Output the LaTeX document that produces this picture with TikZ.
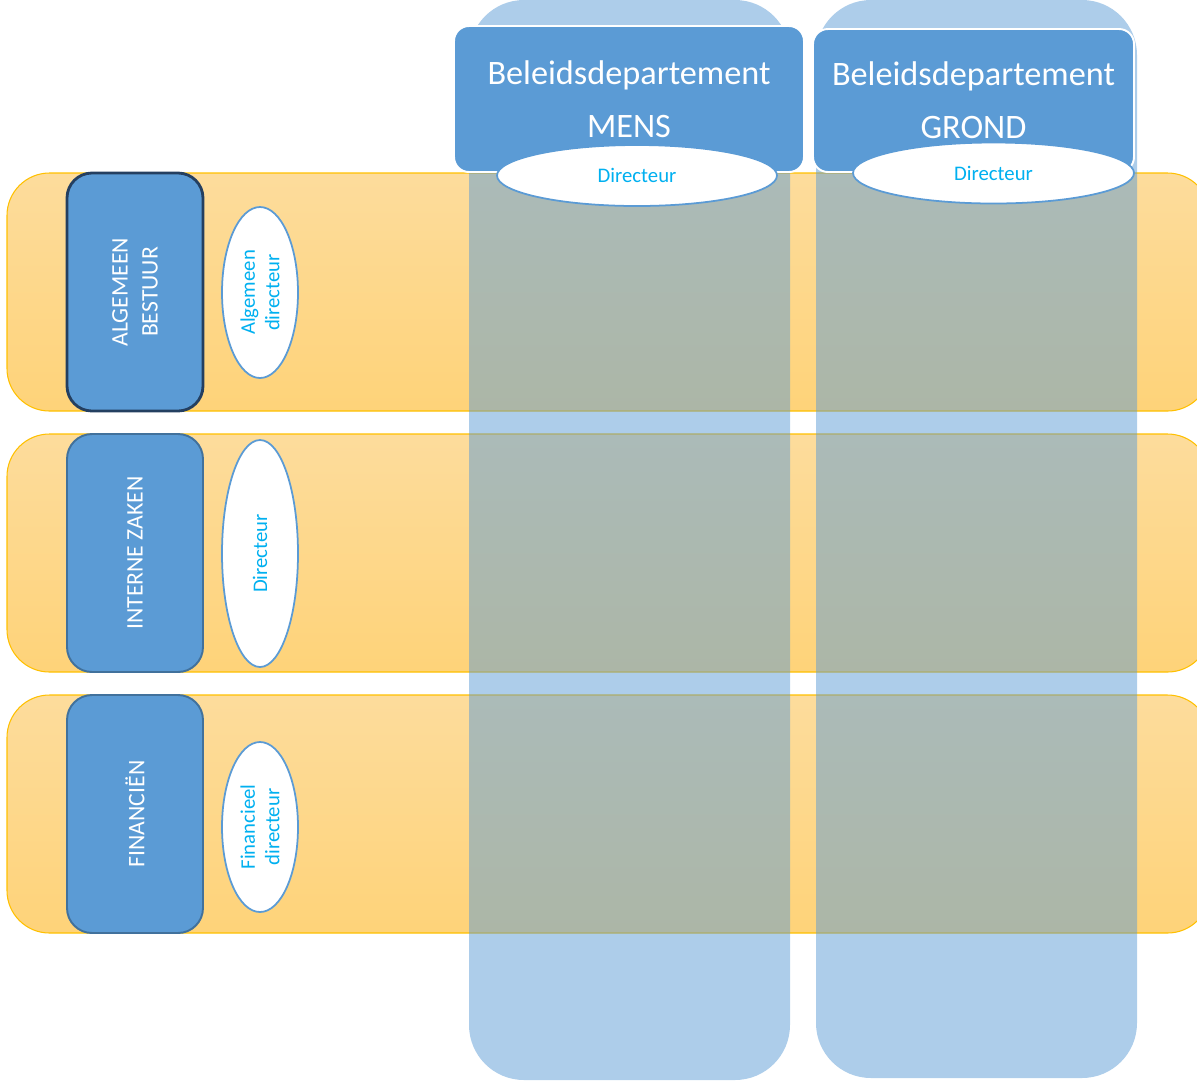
\documentclass[tikz,border=0pt]{standalone}
\usepackage{fontspec}
\setmainfont{Carlito}
\usetikzlibrary{shapes.geometric, positioning}
\definecolor{blauw}{HTML}{5B9BD5}
\definecolor{randblauw}{HTML}{41719C}
\definecolor{donkerblauw}{HTML}{243F60}
\definecolor{oranjerand}{HTML}{FFC000}
\definecolor{oranjeboven}{HTML}{FDDC9C}
\definecolor{oranjeonder}{HTML}{FED379}
\definecolor{tekstblauw}{HTML}{00B0F0}

\tikzset{
  band/.style={draw=oranjerand, line width=0.6pt, rounded corners=0.85cm,
    top color=oranjeboven, bottom color=oranjeonder, inner sep=0pt},
  kolom/.style={fill=blauw, fill opacity=0.5, rounded corners=1.1cm, inner sep=0pt,
    minimum width={321*0.02cm}},
  kop/.style={fill=blauw, draw=white, line width=1.1pt, rounded corners=0.3cm,
    text=white, align=center, inner sep=0pt, font={\fontsize{19.5}{30}\selectfont}},
  afdeling/.style={fill=blauw, draw=randblauw, line width=1.1pt, rounded corners=0.5cm,
    rotate=90, text=white, align=center, inner sep=0pt,
    minimum width={238*0.02cm}, minimum height={136*0.02cm},
    font={\fontsize{13.5}{17}\selectfont}},
  leider/.style={ellipse, fill=white, draw=blauw, line width=1pt, inner sep=0pt,
    text=tekstblauw, align=center, font={\fontsize{11.8}{14}\selectfont}},
}

\begin{document}
\begin{tikzpicture}[x=0.02cm, y=-0.02cm]
    \useasboundingbox (0,0) rectangle (1197,1080);
    \clip (0,0) rectangle (1197,1080);
    % Horizontale banden
    \foreach \naam/\y in {bestuur/292, intern/553, financien/814} {
        \node[band, minimum width={1203*0.02cm}, minimum height={238*0.02cm}]
            (band-\naam) at (608.5,\y) {};
    }
    % Kolommen
    \node[kolom, minimum height={1080*0.02cm}] (kolom-mens) at (629.5,540) {};
    \node[kolom, minimum height={1078*0.02cm}] (kolom-grond) at (976.5,539) {};
    % Afdelingen links
    \node[afdeling, draw=donkerblauw, line width=1.6pt] (ab) at (135,292) {ALGEMEEN\\BESTUUR};
    \node[afdeling] (iz) at (135,553) {INTERNE ZAKEN};
    \node[afdeling] (fin) at (135,814) {FINANCIËN};
    % Directeuren links
    \node[leider, rotate=90, minimum width={171*0.02cm}, minimum height={76*0.02cm}]
        (dir-ab) at (260,292.5) {Algemeen\\directeur};
    \node[leider, rotate=90, minimum width={227*0.02cm}, minimum height={76*0.02cm}]
        (dir-iz) at (260,553.5) {Directeur};
    \node[leider, rotate=90, minimum width={170*0.02cm}, minimum height={76*0.02cm}]
        (dir-fin) at (260,827) {Financieel\\directeur};
    % Beleidsdepartementen
    \node[kop, minimum width={350*0.02cm}, minimum height={146*0.02cm}]
        (kop-mens) at (629,99) {Beleidsdepartement\\MENS};
    \node[kop, minimum width={321*0.02cm}, minimum height={143*0.02cm}]
        (kop-grond) at (973.5,100.5) {Beleidsdepartement\\GROND};
    \node[leider, minimum width={280*0.02cm}, minimum height={61*0.02cm}]
        (dir-mens) at (637,175.5) {Directeur};
    \node[leider, minimum width={281*0.02cm}, minimum height={61*0.02cm}]
        (dir-grond) at (993.5,173) {Directeur};
\end{tikzpicture}
\end{document}
